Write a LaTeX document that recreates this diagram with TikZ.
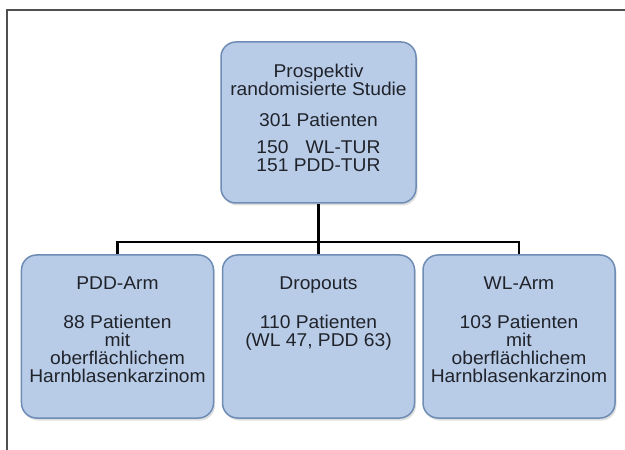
\documentclass[tikz,border=0pt]{standalone}
\usepackage{fontspec}
\setmainfont{Liberation Sans}[FakeStretch=1.04]
\usepackage{calc}
\usetikzlibrary{positioning,shadows}

\definecolor{boxfill}{RGB}{184,204,232}
\definecolor{boxline}{RGB}{110,140,180}
\definecolor{boxtext}{RGB}{32,35,42}
\definecolor{framegray}{RGB}{80,80,80}

\tikzset{
   flowbox/.style={draw=boxline, line width=1.5bp, fill=boxfill, rounded corners=15bp,
      minimum width=192bp, minimum height=163bp, inner sep=0pt,
      drop shadow={opacity=0.25, shadow xshift=1.5bp, shadow yshift=-2.5bp}},
   boxtxt/.style={align=center, inner sep=0pt, text=boxtext,
      font=\fontsize{18.5bp}{17.8bp}\selectfont},
   link/.style={line width=2.5bp, black}
}

\begin{document}
\begin{tikzpicture}[x=1bp, y=-1bp]

		\useasboundingbox (0,0) rectangle (625,450);

		% Frame
		\draw[framegray, line width=2bp] (625,10) -- (7,10) -- (7,450);

		% Study
		\node[flowbox, minimum width=195bp, minimum height=161bp] (study) at (318.5,122.5) {};
		\node[boxtxt, below=23bp of study.north] (studytxt)
			{Prospektiv\\randomisierte Studie\\[13bp]301 Patienten\\[9bp]%
			\makebox[\widthof{151 PDD-TUR}]{150\hfill WL-TUR}\\151 PDD-TUR};

		% Arms
		\node[flowbox] (pddarm) at (117.5,336.5) {};
		\node[flowbox] (dropouts) at (318.5,336.5) {};
		\node[flowbox] (wlarm) at (519,336.5) {};

		\node[boxtxt, below=22bp of pddarm.north] (pddtxt)
			{PDD-Arm\\[22bp]88 Patienten\\mit\\oberflächlichem\\Harnblasenkarzinom};
		\node[boxtxt, below=22bp of dropouts.north] (droptxt)
			{Dropouts\\[22bp]110 Patienten\\(WL 47, PDD 63)};
		\node[boxtxt, below=22bp of wlarm.north] (wltxt)
			{WL-Arm\\[22bp]103 Patienten\\mit\\oberflächlichem\\Harnblasenkarzinom};

		% Lines
		\coordinate (split) at (318.5,242);
		\draw[link] (study.south) -- (dropouts.north);
		\draw[link] (split) -| (pddarm.north);
		\draw[link] (split) -| (wlarm.north);
	\end{tikzpicture}
\end{document}
